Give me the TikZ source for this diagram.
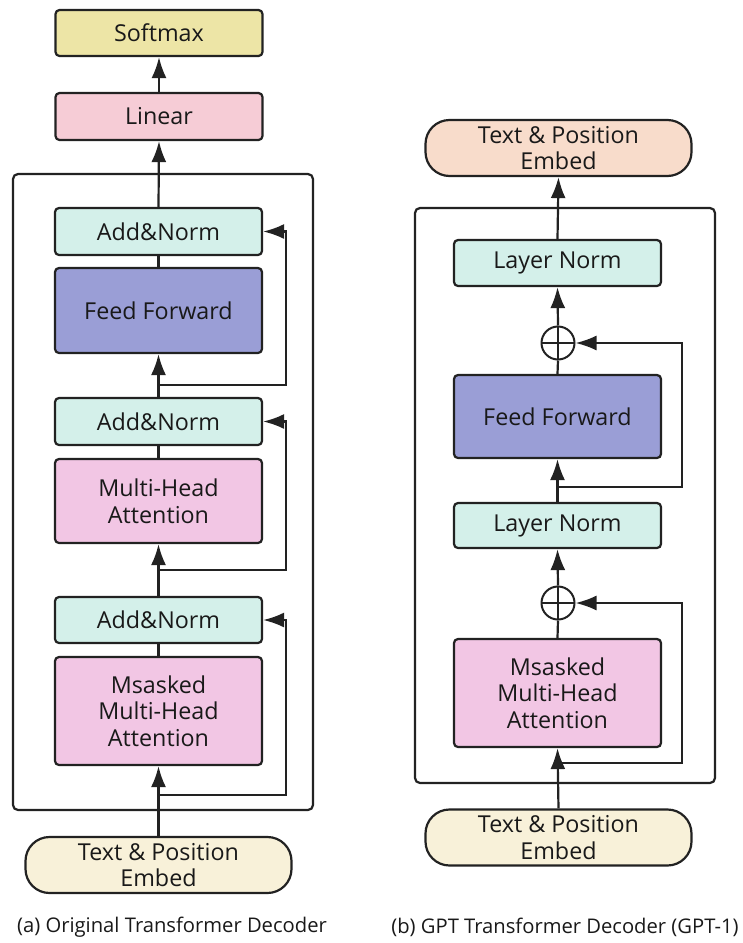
\documentclass[tikz,border=0pt]{standalone}
\usepackage{fontspec}
\setmainfont{Open Sans}
\usetikzlibrary{arrows.meta}
\definecolor{cSoft}{HTML}{EDE5A6}
\definecolor{cLin}{HTML}{F6CCD6}
\definecolor{cNorm}{HTML}{D4F0EA}
\definecolor{cFF}{HTML}{9A9ED6}
\definecolor{cMHA}{HTML}{F2C6E4}
\definecolor{cEmbB}{HTML}{F8F1D9}
\definecolor{cEmbT}{HTML}{F8DCCB}
\definecolor{cLine}{HTML}{222222}
\tikzset{
  blk/.style={draw=cLine, line width=2.2pt, rounded corners=4pt, minimum width=207pt,
    align=center, inner sep=0pt, text=black!90,
    font=\fontsize{23.3}{26.7}\selectfont},
  emb/.style={blk, rounded corners=24pt, minimum width=266pt, minimum height=56pt},
  outerbox/.style={draw=cLine, line width=2.2pt, rounded corners=5pt},
  conn/.style={draw=cLine, line width=2.2pt},
  arr/.style={conn, -{Latex[length=21pt,width=15pt,sharp]}},
  plusc/.style={circle, draw=cLine, line width=2pt, minimum size=33pt, inner sep=0pt,
    path picture={\draw[cLine, line width=2pt]
      (path picture bounding box.north) -- (path picture bounding box.south)
      (path picture bounding box.west) -- (path picture bounding box.east);}},
  captxt/.style={font=\fontsize{20.2}{24}\selectfont, text=black!90}
}
\begin{document}
\begin{tikzpicture}[x=1pt,y=-1pt]
\useasboundingbox (0,0) rectangle (743,943);
% ---------- left ----------
\draw[outerbox] (13,174) rectangle (313,810);
\node[blk, fill=cSoft, minimum height=46pt] (soft) at (159,33) {Softmax};
\node[blk, fill=cLin, minimum height=47pt] (lin) at (159,116.5) {Linear};
\node[blk, fill=cNorm, minimum height=47pt] (an1) at (158.5,231.5) {Add\&Norm};
\node[blk, fill=cFF, minimum height=85pt] (ff) at (158.5,310.5) {Feed Forward};
\node[blk, fill=cNorm, minimum height=47pt] (an2) at (158.5,421.5) {Add\&Norm};
\node[blk, fill=cMHA, minimum height=84pt] (mha) at (158.5,501) {Multi-Head\\Attention};
\node[blk, fill=cNorm, minimum height=46pt] (an3) at (158.5,620) {Add\&Norm};
\node[blk, fill=cMHA, minimum height=108pt] (mmha) at (158.5,711) {Msasked\\Multi-Head\\Attention};
\node[emb, fill=cEmbB] (tpa) at (158.5,865) {Text \& Position\\Embed};
\node[captxt] (capa) at (172,927) {(a) Original Transformer Decoder};

\coordinate (ba3) at (158.5,795);
\coordinate (ra3) at (286,795);
\coordinate (ba2) at (158.5,570);
\coordinate (ra2) at (286,570);
\coordinate (ba1) at (158.5,385);
\coordinate (ra1) at (286,385);

\draw[arr] (tpa.north) -- (mmha.south);
\draw[arr] (ba3) -- (ra3) |- (an3.east);
\draw[conn] (mmha.north) -- (an3.south);
\draw[arr] (an3.north) -- (mha.south);
\draw[arr] (ba2) -- (ra2) |- (an2.east);
\draw[conn] (mha.north) -- (an2.south);
\draw[arr] (an2.north) -- (ff.south);
\draw[arr] (ba1) -- (ra1) |- (an1.east);
\draw[conn] (ff.north) -- (an1.south);
\draw[arr] (an1.north) -- (lin.south);
\draw[arr] (lin.north) -- (soft.south);

% ---------- right ----------
\draw[outerbox] (415,208) rectangle (715,783);
\node[emb, fill=cEmbT] (tpt) at (558.5,148) {Text \& Position\\Embed};
\node[blk, fill=cNorm, minimum height=46pt] (ln1) at (557.5,263) {Layer Norm};
\node[plusc] (p1) at (558,343) {};
\node[blk, fill=cFF, minimum height=83pt] (ff2) at (557.5,416.5) {Feed Forward};
\node[blk, fill=cNorm, minimum height=45pt] (ln2) at (557.5,525.5) {Layer Norm};
\node[plusc] (p2) at (558,603) {};
\node[blk, fill=cMHA, minimum height=108pt] (mmha2) at (557.5,693) {Msasked\\Multi-Head\\Attention};
\node[emb, fill=cEmbB] (tpb) at (558.5,837.5) {Text \& Position\\Embed};
\node[captxt] (capb) at (565,927) {(b) GPT Transformer Decoder (GPT-1)};

\coordinate (bb2) at (557.5,763);
\coordinate (rb2) at (682,763);
\coordinate (bb1) at (557.5,487);
\coordinate (rb1) at (682,487);

\draw[arr] (tpb.north) -- (mmha2.south);
\draw[arr] (bb2) -- (rb2) |- (p2.east);
\draw[conn] (mmha2.north) -- (p2.south);
\draw[arr] (p2.north) -- (ln2.south);
\draw[arr] (ln2.north) -- (ff2.south);
\draw[arr] (bb1) -- (rb1) |- (p1.east);
\draw[conn] (ff2.north) -- (p1.south);
\draw[arr] (p1.north) -- (ln1.south);
\draw[arr] (ln1.north) -- (tpt.south);
\end{tikzpicture}
\end{document}
